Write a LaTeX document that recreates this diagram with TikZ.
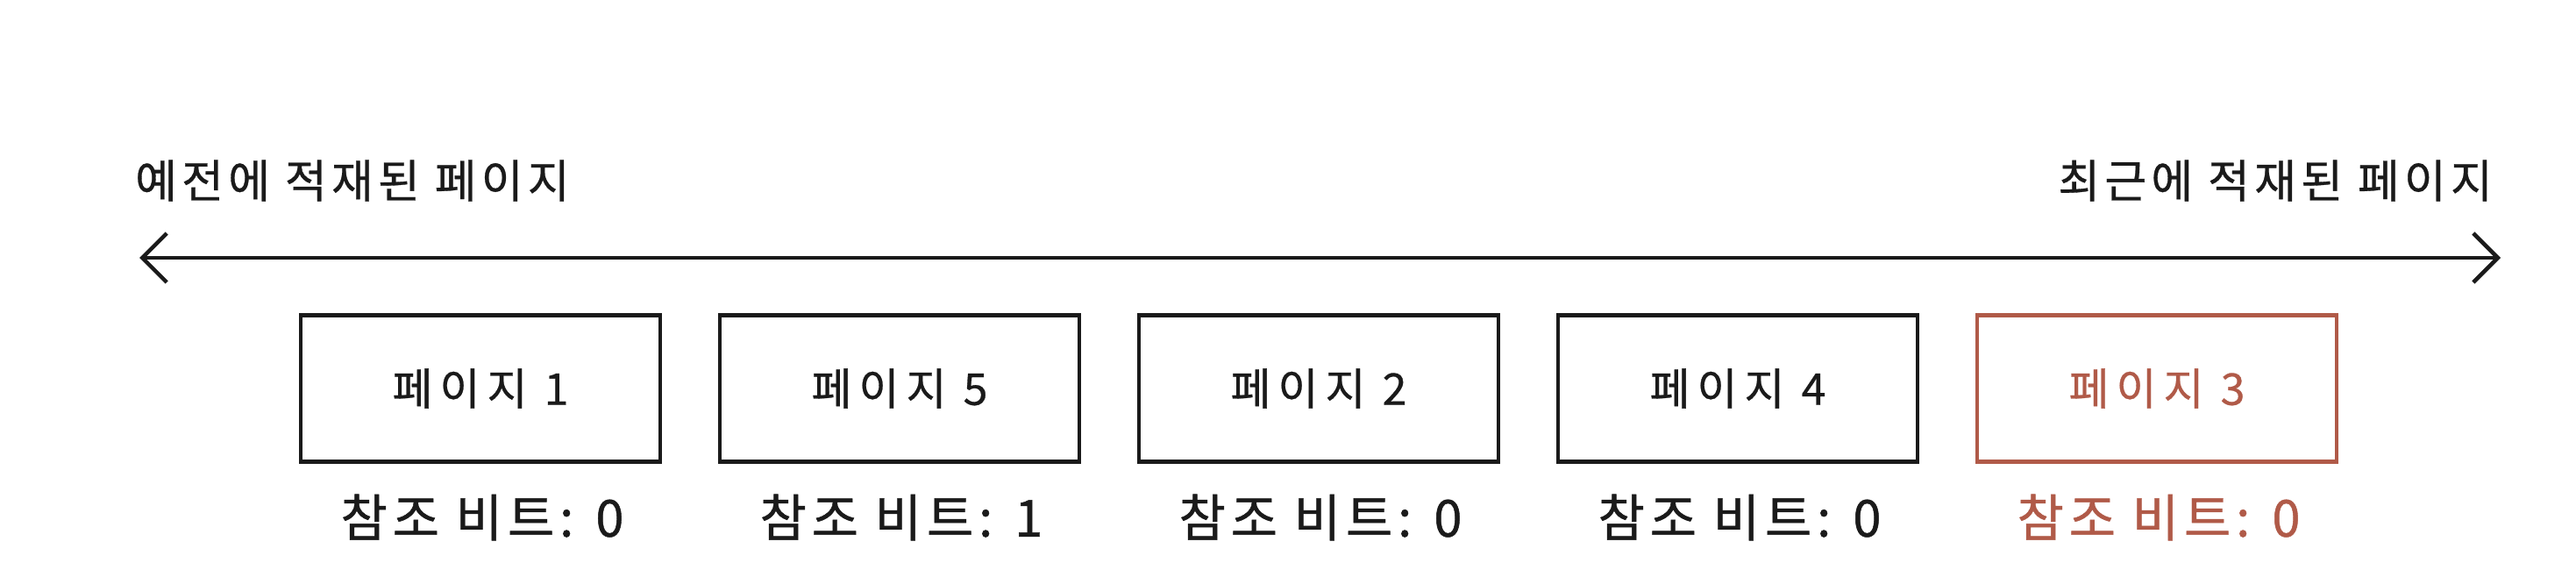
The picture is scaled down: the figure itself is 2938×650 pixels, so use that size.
\documentclass[tikz,border=0pt]{standalone}
\usepackage{fontspec}
\setmainfont{Noto Sans CJK KR}
\usetikzlibrary{arrows.meta}
\definecolor{ink}{HTML}{1A1A1A}
\definecolor{hot}{HTML}{B05A48}
\newfontfamily\boxfont[LetterSpace=16,FakeBold=0.6]{Noto Sans CJK KR}
\newfontfamily\labfont[LetterSpace=10,FakeBold=0.8]{Noto Sans CJK KR}
\newfontfamily\headfont[LetterSpace=10,FakeBold=0.6]{Noto Sans CJK KR}
\begin{document}
\begin{tikzpicture}[x=1pt,y=-1pt,
  pagebox/.style={draw=ink,line width=4.5pt,minimum width=410pt,minimum height=167pt,inner sep=0pt,
    font=\boxfont\fontsize{50}{58}\selectfont,text=ink},
  bitlabel/.style={font=\labfont\fontsize{58}{66}\selectfont,text=ink,inner sep=0pt},
  headlabel/.style={font=\headfont\fontsize{52}{60}\selectfont,text=ink,inner sep=0pt},
  timeline/.style={draw=ink,line width=4.5pt,{Straight Barb[length=28pt,width=56pt,line width=4.5pt]}-{Straight Barb[length=28pt,width=56pt,line width=4.5pt]}}]
\useasboundingbox (0,0) rectangle (2938,650);
\node[headlabel,anchor=west] (old) at (154,206) {예전에 적재된 페이지};
\node[headlabel,anchor=east] (new) at (2843,206) {최근에 적재된 페이지};
\coordinate (l) at (159,294);
\coordinate (r) at (2852,294);
\draw[timeline] (l) -- (r);
\node[pagebox] (p1) at (548,443) {페이지 1};
\node[pagebox] (p5) at (1026,443) {페이지 5};
\node[pagebox] (p2) at (1504,443) {페이지 2};
\node[pagebox] (p4) at (1982,443) {페이지 4};
\node[pagebox,draw=hot,text=hot] (p3) at (2460,443) {페이지 3};
\node[bitlabel] (b1) at (550,590) {참조 비트: 0};
\node[bitlabel] (b5) at (1028,590) {참조 비트: 1};
\node[bitlabel] (b2) at (1506,590) {참조 비트: 0};
\node[bitlabel] (b4) at (1984,590) {참조 비트: 0};
\node[bitlabel,text=hot] (b3) at (2462,590) {참조 비트: 0};
\end{tikzpicture}
\end{document}
